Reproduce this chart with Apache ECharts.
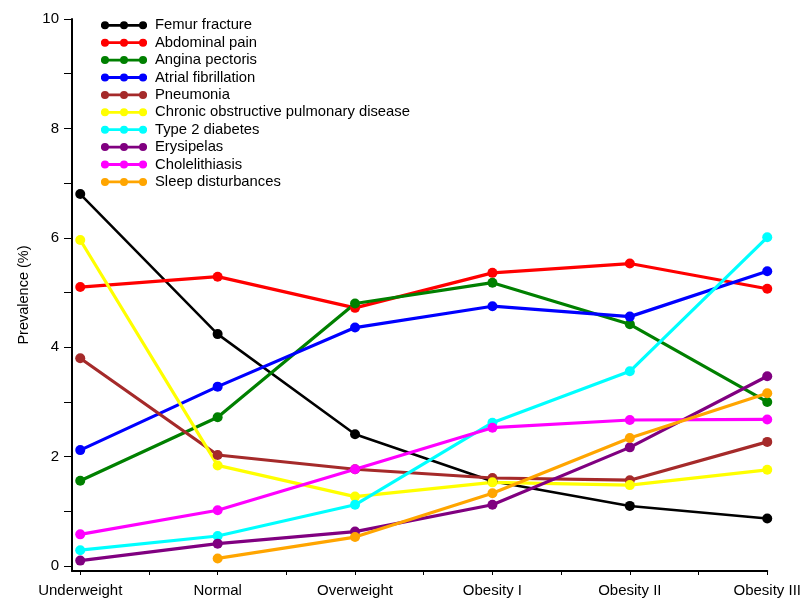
<!DOCTYPE html>
<html>
<head>
<meta charset="utf-8">
<script src="https://cdn.jsdelivr.net/npm/echarts@6/dist/echarts.min.js"></script>
<style>
  html, body { margin: 0; padding: 0; background: #fff; }
  #chart { width: 804px; height: 598px; }
</style>
</head>
<body>
<div id="chart"></div>
<script>
// BMI categories along the x axis
const categories = ['Underweight', 'Normal', 'Overweight', 'Obesity I', 'Obesity II', 'Obesity III'];

// Prevalence (%) per diagnosis, one value per BMI category
const femurFracture   = [6.80, 4.24, 2.41, 1.55, 1.10, 0.87];
const abdominalPain   = [5.10, 5.29, 4.72, 5.36, 5.53, 5.07];
const anginaPectoris  = [1.56, 2.72, 4.80, 5.18, 4.42, 3.00];
const atrialFib       = [2.12, 3.28, 4.36, 4.75, 4.56, 5.39];
const pneumonia       = [3.80, 2.03, 1.77, 1.61, 1.57, 2.27];
const copd            = [5.96, 1.84, 1.27, 1.53, 1.48, 1.76];
const type2Diabetes   = [0.29, 0.55, 1.12, 2.62, 3.56, 6.01];
const erysipelas      = [0.10, 0.41, 0.63, 1.12, 2.17, 3.47];
const cholelithiasis  = [0.58, 1.02, 1.77, 2.53, 2.67, 2.68];
const sleepDisturb    = [null, 0.14, 0.53, 1.33, 2.34, 3.16];

const yTickLabels = [0, 2, 4, 6, 8, 10];

const seriesDefs = [
  ['Femur fracture', femurFracture, '#000000'],
  ['Abdominal pain', abdominalPain, '#ff0000'],
  ['Angina pectoris', anginaPectoris, '#008000'],
  ['Atrial fibrillation', atrialFib, '#0000ff'],
  ['Pneumonia', pneumonia, '#a52a2a'],
  ['Chronic obstructive pulmonary disease', copd, '#ffff00'],
  ['Type 2 diabetes', type2Diabetes, '#00ffff'],
  ['Erysipelas', erysipelas, '#800080'],
  ['Cholelithiasis', cholelithiasis, '#ff00ff'],
  ['Sleep disturbances', sleepDisturb, '#ffa500']
];

// legend glyph: a line with three filled dots (all subpaths clockwise)
const legendIcon = 'path://M0,2.6L46,2.6L46,5.4L0,5.4Z' +
  'M0,4a4,4 0 1,1 8,0a4,4 0 1,1 -8,0Z' +
  'M19,4a4,4 0 1,1 8,0a4,4 0 1,1 -8,0Z' +
  'M38,4a4,4 0 1,1 8,0a4,4 0 1,1 -8,0Z';

const font = 'Liberation Sans, Arial, sans-serif';

const chart = echarts.init(document.getElementById('chart'), null, { renderer: 'canvas' });

chart.setOption({
  animation: false,
  backgroundColor: '#ffffff',
  grid: { left: 72, right: 34, top: 19, bottom: 26, containLabel: false },
  legend: {
    orient: 'vertical',
    left: 96,
    top: 12.8,
    itemWidth: 46,
    itemHeight: 8,
    itemGap: 2.4,
    icon: legendIcon,
    textStyle: { fontFamily: font, fontSize: 14.8, color: '#000', padding: [0, 0, 0, 3] },
    data: seriesDefs.map(d => d[0])
  },
  xAxis: {
    type: 'value',
    min: -0.06,
    max: 5,
    splitLine: { show: false },
    axisLine: { show: true, onZero: false, lineStyle: { color: '#000', width: 2 } },
    axisTick: {
      show: true, inside: false, length: 4,
      lineStyle: { color: '#000', width: 1 },
      customValues: [0, 0.5, 1, 1.5, 2, 2.5, 3, 3.5, 4, 4.5, 5]
    },
    axisLabel: {
      customValues: categories.map((c, i) => i),
      formatter: v => categories[Math.round(v)],
      fontFamily: font, fontSize: 15, color: '#000', margin: 12
    }
  },
  yAxis: {
    type: 'value',
    min: -0.09,
    max: 10,
    name: 'Prevalence (%)',
    nameLocation: 'middle',
    nameGap: 41,
    nameRotate: 90,
    nameTextStyle: { fontFamily: font, fontSize: 14.5, color: '#000' },
    splitLine: { show: false },
    axisLine: { show: true, onZero: false, lineStyle: { color: '#000', width: 2 } },
    axisTick: {
      show: true, inside: false, length: 8,
      lineStyle: { color: '#000', width: 1 },
      customValues: [0, 1, 2, 3, 4, 5, 6, 7, 8, 9, 10]
    },
    axisLabel: {
      customValues: yTickLabels,
      fontFamily: font, fontSize: 15, color: '#000', margin: 13
    }
  },
  series: seriesDefs.map(([name, vals, color]) => ({
    name: name,
    type: 'line',
    data: vals.map((v, i) => [i, v]),
    connectNulls: false,
    symbol: 'circle',
    symbolSize: 10,
    showSymbol: true,
    lineStyle: { color: color, width: name === 'Femur fracture' ? 2.5 : 3.2 },
    itemStyle: { color: color },
    emphasis: { disabled: true }
  }))
});
</script>
</body>
</html>
